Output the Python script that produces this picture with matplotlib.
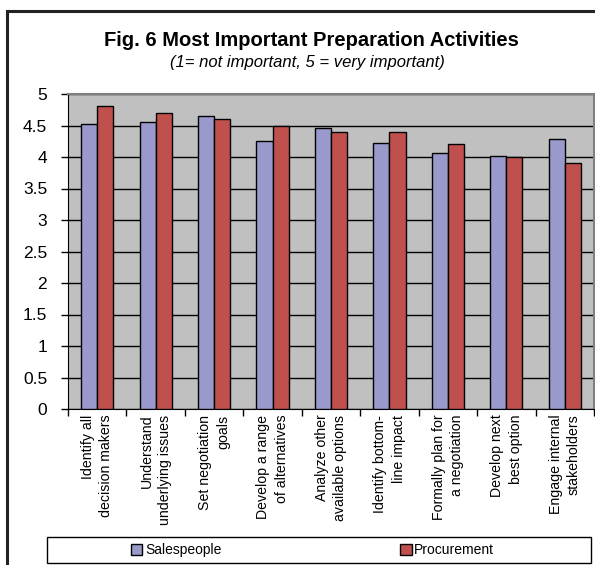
import matplotlib
matplotlib.use("Agg")
import matplotlib.pyplot as plt
import numpy as np
from matplotlib.patches import Rectangle

plt.rcParams['font.family'] = ['Liberation Sans', 'DejaVu Sans']

categories = [
    "Identify all\ndecision makers",
    "Understand\nunderlying issues",
    "Set negotiation\ngoals",
    "Develop a range\nof alternatives",
    "Analyze other\navailable options",
    "Identify bottom-\nline impact",
    "Formally plan for\na negotiation",
    "Develop next\nbest option",
    "Engage internal\nstakeholders",
]
salespeople = [4.53, 4.55, 4.65, 4.26, 4.46, 4.23, 4.06, 4.02, 4.28]
procurement = [4.81, 4.70, 4.60, 4.50, 4.40, 4.40, 4.21, 4.00, 3.90]
yticks = [0, 0.5, 1, 1.5, 2, 2.5, 3, 3.5, 4, 4.5, 5]
ytick_labels = ["0", "0.5", "1", "1.5", "2", "2.5", "3", "3.5", "4", "4.5", "5"]

W, H = 595, 565
fig = plt.figure(figsize=(W / 100, H / 100), dpi=100)
fig.patch.set_facecolor("white")

# outer frame
fig.patches.append(Rectangle((7 / W, -0.1), 1.2, 1 - 11 / H + 0.1,
                             transform=fig.transFigure, fill=False,
                             edgecolor="#222222", linewidth=2.2))

ax = fig.add_axes([68 / W, 1 - 409 / H, (594 - 68) / W, (409 - 94) / H])
ax.set_facecolor("#C0C0C0")

x = np.arange(len(categories))
bw = 0.275
b1 = ax.bar(x - bw / 2, salespeople, bw, color="#9999CC", edgecolor="black",
            linewidth=1, label="Salespeople", zorder=3)
b2 = ax.bar(x + bw / 2, procurement, bw, color="#C0504D", edgecolor="black",
            linewidth=1, label="Procurement", zorder=3)

ax.set_xlim(-0.5, len(categories) - 0.5)
ax.set_ylim(0, 5)
ax.set_yticks(yticks)
ax.set_yticklabels(ytick_labels, fontsize=12.5)
ax.yaxis.grid(True, color="black", linewidth=1, zorder=1)
ax.set_axisbelow(True)

ax.set_xticks(np.arange(len(categories) + 1) - 0.5)
ax.set_xticklabels([])
ax.tick_params(axis="x", direction="out", length=5, width=1, color="black")
ax.tick_params(axis="y", direction="out", length=5, width=1, color="black", pad=10)
for i, lab in enumerate(categories):
    ax.text(i, -0.09, lab, rotation=90, ha="center", va="top",
            multialignment="right", fontsize=10.2, linespacing=1.4,
            transform=ax.transData)

for s in ["top", "right"]:
    ax.spines[s].set_color("#808080")
    ax.spines[s].set_linewidth(1.5)
ax.spines["left"].set_color("black")
ax.spines["bottom"].set_color("black")

fig.text(311 / W, 1 - 40 / H, "Fig. 6 Most Important Preparation Activities",
         ha="center", va="center", fontsize=14.5, fontweight="bold")
fig.text(307 / W, 1 - 62 / H, "(1= not important, 5 = very important)",
         ha="center", va="center", fontsize=12, fontstyle="italic")

# legend box with the two entries centred in each half
fig.patches.append(Rectangle((47 / W, 1 - 563 / H), (591 - 47) / W, 26 / H,
                             transform=fig.transFigure, fill=False,
                             edgecolor="black", linewidth=1))
for handle, cx in [(b1, 176), (b2, 447)]:
    fig.legend([handle], [handle.get_label()], loc="center",
               bbox_to_anchor=(cx / W, 1 - 550 / H), frameon=False,
               fontsize=10, handlelength=0.85, handleheight=0.85,
               handletextpad=0.2, borderpad=0, borderaxespad=0)

fig.savefig("out.png", dpi=100, facecolor="white")
